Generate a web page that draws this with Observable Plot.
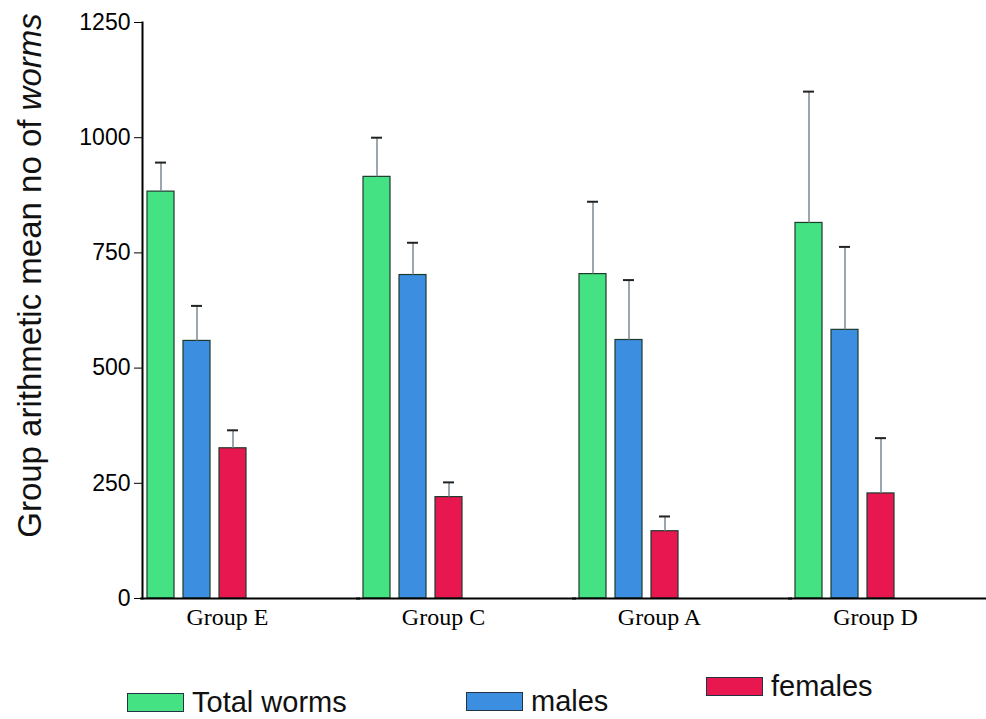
<!DOCTYPE html>
<html>
<head>
<meta charset="utf-8">
<script src="https://cdn.jsdelivr.net/npm/d3@7"></script>
<script src="https://cdn.jsdelivr.net/npm/@observablehq/plot@0.6"></script>
<style>
  html, body { margin: 0; padding: 0; background: #fff; }
  #wrap { position: relative; width: 986px; height: 719px; overflow: hidden; }
  .leg { position: absolute; display: flex; align-items: center; font-family: "Liberation Sans", Arial, sans-serif; font-size: 29px; line-height: 29px; height: 29px; color: #111; }
  .sw { display: inline-block; width: 57px; height: 19px; margin-right: 8px; box-sizing: border-box; border: 1.5px solid #234; }
</style>
</head>
<body>
<div id="wrap"></div>
<script>
// ---- data ----
const groups = ["Group E", "Group C", "Group A", "Group D"];
const series = ["Total worms", "males", "females"];
const totalMean  = [883, 915, 704, 815];
const totalUpper = [946, 1000, 861, 1100];
const malesMean  = [559, 702, 561, 583];
const malesUpper = [635, 772, 691, 763];
const femalesMean  = [326, 220, 146, 228];
const femalesUpper = [365, 252, 178, 348];
const yTicks = [0, 250, 500, 750, 1000, 1250];
const colors = ["#44e283", "#3b8ee0", "#e8174f"];
const yLabel = "Group arithmetic mean no of worms";

const means = [totalMean, malesMean, femalesMean];
const uppers = [totalUpper, malesUpper, femalesUpper];
const data = [];
groups.forEach((g, gi) => series.forEach((s, si) => {
  data.push({group: g, series: s, mean: means[si][gi], upper: uppers[si][gi]});
}));

const plot = Plot.plot({
  width: 986,
  height: 645,
  marginLeft: 142,
  marginRight: 2,
  marginTop: 22,
  marginBottom: 47,
  style: {fontFamily: "Liberation Sans, Arial, sans-serif", background: "#fff", overflow: "hidden"},
  fx: {domain: groups, paddingInner: 0.333, paddingOuter: 0.113, align: 0, label: null},
  x: {domain: [...series, " "], paddingInner: 0.25, paddingOuter: 0.1, axis: null},
  y: {domain: [0, 1250], label: null},
  color: {domain: series, range: colors},
  marks: [
    Plot.barY(data, {fx: "group", x: "series", y: "mean", fill: "series", stroke: "#1d3b2c", strokeWidth: 1.2}),
    Plot.ruleX(data, {fx: "group", x: "series", y1: "mean", y2: "upper", stroke: "#7a8a90", strokeWidth: 1.5}),
    Plot.tickY(data, {fx: "group", x: "series", y: "upper", stroke: "#222", strokeWidth: 2, insetLeft: 8, insetRight: 8}),
    Plot.ruleY([0], {stroke: "#000", strokeWidth: 2, insetLeft: -2, insetRight: -74}),
    Plot.frame({anchor: "left", facet: "super", stroke: "#000", strokeWidth: 2}),
    Plot.axisY({ticks: yTicks, tickSize: 8, tickPadding: 4, fontSize: 23, label: null, tickFormat: d => String(d)}),
    Plot.axisFx({anchor: "bottom", tickSize: 0, tickPadding: 9, dx: 13, fontSize: 24, fontFamily: "Liberation Serif, Times New Roman, serif", label: null}),
    Plot.text([yLabel], {frameAnchor: "left", textAnchor: "middle", rotate: -90, dx: -112, dy: -35, fontSize: 33, fill: "#111", facet: "super"})
  ]
});

const wrap = document.getElementById("wrap");
wrap.appendChild(plot);

// italicise the last word of the y label
d3.select(plot).selectAll("text").each(function() {
  if (this.textContent === yLabel) {
    const el = d3.select(this);
    const parts = yLabel.split(" ");
    const last = parts.pop();
    el.text(null);
    el.append("tspan").text(parts.join(" ") + " ");
    el.append("tspan").attr("font-style", "italic").text(last);
  }
});

// legend
const legendPos = [
  {left: 127, top: 688},
  {left: 466, top: 687},
  {left: 706, top: 672}
];
series.forEach((s, i) => {
  const d = document.createElement("div");
  d.className = "leg";
  d.style.left = legendPos[i].left + "px";
  d.style.top = legendPos[i].top + "px";
  const sw = document.createElement("span");
  sw.className = "sw";
  sw.style.background = colors[i];
  const t = document.createElement("span");
  t.textContent = s;
  d.appendChild(sw);
  d.appendChild(t);
  wrap.appendChild(d);
});
</script>
</body>
</html>
